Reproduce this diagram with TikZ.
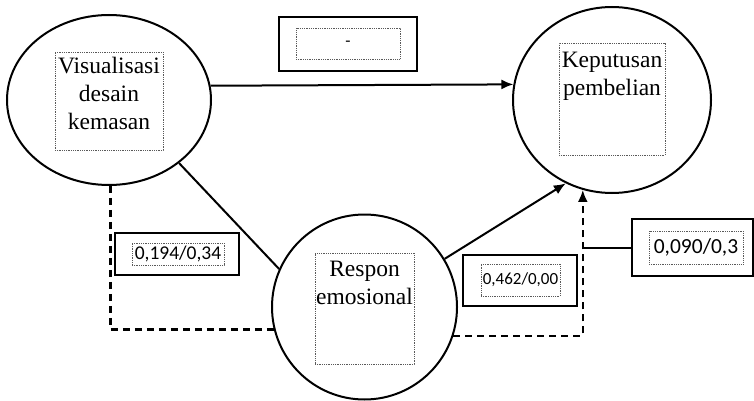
\documentclass[tikz,border=0pt]{standalone}
\usepackage{fontspec}
\setmainfont{Liberation Serif}
\newfontfamily\labfont{Carlito}
\usetikzlibrary{shapes.geometric,arrows.meta}
\tikzset{
  circ/.style={draw, ellipse, line width=2pt, inner sep=0pt},
  dotbox/.style={draw=gray!70!black, densely dotted, line width=0.8pt, inner sep=0pt},
  outbox/.style={draw, line width=2.6pt, inner sep=0pt},
  txt/.style={align=center, inner sep=0pt, font=\fontsize{23.5}{28}\selectfont},
  lbl/.style={inner sep=0pt, font=\labfont},
  conn/.style={line width=2pt},
  arr/.style={line width=2pt, -{Latex[length=12pt,width=10pt]}},
  dline/.style={line width=2.3pt, dash pattern=on 7pt off 5pt}
}
\begin{document}
\begin{tikzpicture}[x=1pt,y=-1pt]
\useasboundingbox (0,0) rectangle (754,401);
% ellipses
\node[circ, minimum width=204pt, minimum height=170pt] (vis) at (109,100) {};
\node[circ, minimum width=198pt, minimum height=186pt] (kep) at (612,100) {};
\node[circ, minimum width=185pt, minimum height=185pt] (res) at (364.5,307) {};
% dotted text boxes
\node[dotbox, minimum width=108pt, minimum height=98pt] (vbox) at (109,101) {};
\node[txt, anchor=north] (vtxt) at ([yshift=-5pt]vbox.north) {Visualisasi\\desain\\kemasan};
\node[dotbox, minimum width=106pt, minimum height=112pt] (kbox) at (612,99) {};
\node[txt, anchor=north] (ktxt) at ([yshift=-9pt]kbox.north) {Keputusan\\pembelian};
\node[dotbox, minimum width=99pt, minimum height=111pt] (rbox) at (364.5,308.5) {};
\node[txt, anchor=north] (rtxt) at ([yshift=-8pt]rbox.north) {Respon\\emosional};
% label boxes
\node[outbox, minimum width=138pt, minimum height=54pt] (b1) at (348,44) {};
\node[dotbox, minimum width=104pt, minimum height=31pt, lbl, font=\labfont\fontsize{17}{20}\selectfont] (b1i) at (348,43.5) {-};
\node[outbox, minimum width=124pt, minimum height=42pt] (b2) at (177,254) {};
\node[dotbox, minimum width=92pt, minimum height=22pt, lbl, font=\labfont\fontsize{19.5}{22}\selectfont] (b2i) at (178,254) {0,194/0,34};
\node[outbox, minimum width=114pt, minimum height=51pt] (b3) at (520,280.5) {};
\node[dotbox, minimum width=79pt, minimum height=32pt, lbl, font=\labfont\fontsize{17}{20}\selectfont] (b3i) at (520.5,280) {0,462/0,00};
\node[outbox, minimum width=121pt, minimum height=57pt] (b4) at (692.5,247.5) {};
\node[dotbox, minimum width=94pt, minimum height=33pt, lbl, font=\labfont\fontsize{21.5}{24}\selectfont] (b4i) at (696,247.5) {0,090/0,3};
% connectors
\draw[arr] (vis.8.5) -- (kep.171.3);
\draw[conn] (vis.-42.4) -- (res.156.2);
\draw[arr] (res.31.2) -- (kep.241.8);
\draw[dline] (vis.-89) |- (res.194.5);
\draw[dline, -{Latex[length=12pt,width=10pt]}] (res.342.3) -| (kep.252);
\draw[line width=2pt] (b4.west) -- (b4.west -| kep.252);
\end{tikzpicture}
\end{document}
